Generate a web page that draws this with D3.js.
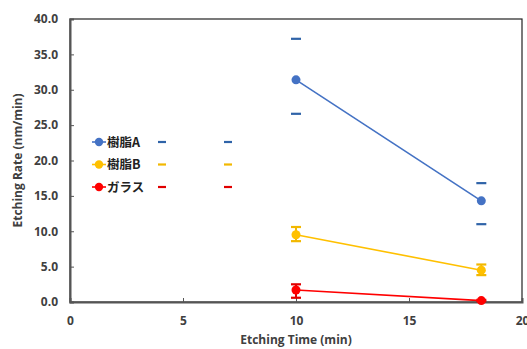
<!DOCTYPE html>
<html>
<head>
<meta charset="utf-8">
<script src="https://cdn.jsdelivr.net/npm/d3@7"></script>
<style>
  body { margin: 0; background: #fff; }
  text { font-family: "Open Sans", "Noto Sans CJK JP", sans-serif; font-weight: bold; }
</style>
</head>
<body>
<svg id="chart" width="527" height="349"></svg>
<script>
const times = [10, 18.2]
const seriesNames = ['樹脂A', '樹脂B', 'ガラス']
const resinA = [31.4, 14.3]
const resinAErr = [[26.6, 37.2], [11.0, 16.8]]
const resinB = [9.5, 4.5]
const resinBErr = [[8.6, 10.6], [3.8, 5.3]]
const glass = [1.7, 0.2]
const glassErr = [[0.6, 2.5], [0.1, 0.3]]
const xTicks = [0, 5, 10, 15, 20]
const yTicks = [0, 5, 10, 15, 20, 25, 30, 35, 40]

const series = [
  { name: seriesNames[0], values: resinA, err: resinAErr, color: '#4472C4', cap: '#2F63A8', showStem: false },
  { name: seriesNames[1], values: resinB, err: resinBErr, color: '#FFC000', cap: '#F2B800', showStem: true },
  { name: seriesNames[2], values: glass, err: glassErr, color: '#FF0000', cap: '#E00000', showStem: true }
]

const svg = d3.select('#chart')
const margin = { left: 70, right: 5, top: 19, bottom: 47 }
const width = 527 - margin.left - margin.right
const height = 349 - margin.top - margin.bottom

const x = d3.scaleLinear().domain([0, 20]).range([0, width])
const y = d3.scaleLinear().domain([0, 40]).range([height, 0])

const g = svg.append('g').attr('transform', `translate(${margin.left},${margin.top})`)

// frame
g.append('rect')
  .attr('width', width).attr('height', height)
  .attr('fill', 'none').attr('stroke', '#222').attr('stroke-width', 1.2)

// y axis
const yAxis = g.append('g')
  .call(d3.axisLeft(y).tickValues(yTicks).tickSize(-4).tickPadding(12).tickFormat(d3.format('.1f')))
yAxis.select('.domain').attr('stroke', '#555').attr('stroke-width', 2)
yAxis.selectAll('.tick line').attr('stroke', '#555')
yAxis.selectAll('text').attr('font-size', 12).attr('fill', '#404040')

// x axis
const xAxis = g.append('g')
  .attr('transform', `translate(0,${height})`)
  .call(d3.axisBottom(x).tickValues(xTicks).tickSize(-4).tickPadding(14).tickFormat(d3.format('d')))
xAxis.select('.domain').attr('stroke', '#555').attr('stroke-width', 2)
xAxis.selectAll('.tick line').attr('stroke', '#555')
xAxis.selectAll('text').attr('font-size', 12).attr('fill', '#404040')

// axis titles
svg.append('text')
  .attr('transform', `translate(22,${margin.top + height / 2}) rotate(-90)`)
  .attr('text-anchor', 'middle')
  .attr('font-size', 12).attr('fill', '#404040')
  .text('Etching Rate (nm/min)')
svg.append('text')
  .attr('x', margin.left + x(10)).attr('y', 344)
  .attr('text-anchor', 'middle')
  .attr('font-size', 12).attr('fill', '#404040')
  .text('Etching Time (min)')

const line = d3.line().x((d, i) => x(times[i])).y(d => y(d))

series.forEach(s => {
  // error bars
  s.err.forEach((e, i) => {
    if (s.showStem) {
      g.append('line')
        .attr('x1', x(times[i])).attr('x2', x(times[i]))
        .attr('y1', y(e[0])).attr('y2', y(e[1]))
        .attr('stroke', s.cap).attr('stroke-width', 2)
    }
    e.forEach(v => {
      g.append('line')
        .attr('x1', x(times[i]) - 5).attr('x2', x(times[i]) + 5)
        .attr('y1', y(v)).attr('y2', y(v))
        .attr('stroke', s.cap).attr('stroke-width', 2.2)
    })
  })
  g.append('path')
    .datum(s.values)
    .attr('d', line)
    .attr('fill', 'none')
    .attr('stroke', s.color)
    .attr('stroke-width', 1.6)
  g.selectAll(null)
    .data(s.values)
    .enter()
    .append('circle')
    .attr('cx', (d, i) => x(times[i]))
    .attr('cy', d => y(d))
    .attr('r', 4.5)
    .attr('fill', s.color)
})

// legend
const legend = svg.append('g').attr('transform', 'translate(92,142)')
series.forEach((s, i) => {
  const row = legend.append('g').attr('transform', `translate(0,${i * 22.5})`)
  row.append('line').attr('x1', 0).attr('x2', 14).attr('stroke', s.color).attr('stroke-width', 1.6)
  row.append('circle').attr('cx', 7).attr('r', 4.2).attr('fill', s.color)
  row.append('text').attr('x', 15).attr('y', 4.5)
    .attr('font-size', 12.5).attr('fill', '#222')
    .style('font-family', '"Noto Sans CJK JP", sans-serif')
    .text(s.name)
  ;[70, 136].forEach(dx => {
    row.append('line').attr('x1', dx - 4).attr('x2', dx + 4)
      .attr('stroke', s.cap).attr('stroke-width', 2.2)
  })
})
</script>
</body>
</html>
